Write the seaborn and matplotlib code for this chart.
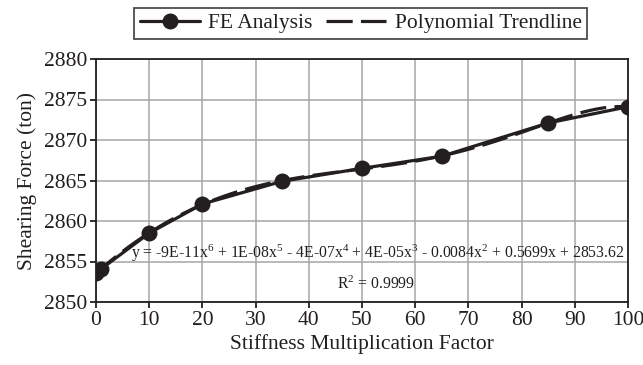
import numpy as np
import pandas as pd
import matplotlib
matplotlib.use("Agg")
import matplotlib.pyplot as plt
import seaborn as sns

# Data
stiffness = [0, 1, 10, 20, 35, 50, 65, 85, 100]
shear_force = [2853.6, 2854.1, 2858.5, 2862.1, 2864.9, 2866.5, 2868.0, 2872.1, 2874.1]
x_ticks = [0, 10, 20, 30, 40, 50, 60, 70, 80, 90, 100]
y_ticks = [2850, 2855, 2860, 2865, 2870, 2875, 2880]
equation = ("y = -9E-11x$^{6}$ + 1E-08x$^{5}$ - 4E-07x$^{4}$ + 4E-05x$^{3}$ "
            "- 0.0084x$^{2}$ + 0.5699x + 2853.62")
r2_text = "R$^{2}$ = 0.9999"

sns.set_theme(style="white")
plt.rcParams["font.family"] = ["Liberation Serif", "DejaVu Serif"]
plt.rcParams["mathtext.fontset"] = "custom"
plt.rcParams["mathtext.rm"] = "Liberation Serif"
plt.rcParams["mathtext.default"] = "regular"

INK = "#231f20"
W, H = 643, 365

df = pd.DataFrame({"x": stiffness, "y": shear_force})
coef = np.polyfit(stiffness, shear_force, 6)
xs = np.linspace(min(stiffness), max(stiffness), 200)
trend = pd.DataFrame({"x": xs, "y": np.polyval(coef, xs)})

fig = plt.figure(figsize=(W / 100, H / 100), dpi=100)
left, right, top, bottom = 96, 628, 59, 302
ax = fig.add_axes([left / W, 1 - bottom / H, (right - left) / W, (bottom - top) / H])

sns.lineplot(data=trend, x="x", y="y", ax=ax, color=INK, lw=2.3,
             linestyle=(0, (8.2, 2.6)), label="Polynomial Trendline", zorder=3)
sns.lineplot(data=df, x="x", y="y", ax=ax, color=INK, lw=2.3,
             marker="o", markersize=11.5, markeredgewidth=0,
             label="FE Analysis", zorder=4)

ax.set_xlim(0, 100)
ax.set_ylim(2850, 2880)
ax.set_xticks(x_ticks)
ax.set_yticks(y_ticks)
ax.grid(True, color="#a6a6a6", lw=1.1)
for s in ax.spines.values():
    s.set_color(INK)
    s.set_linewidth(1.3)
    s.set_visible(True)
ax.tick_params(axis="both", direction="out", length=4.5, width=1.3, colors=INK,
               labelsize=15.5, labelcolor=INK, pad=2, bottom=True, left=True)
ax.set_xlabel("Stiffness Multiplication Factor", fontsize=15.5, color=INK, labelpad=3)
ax.set_ylabel("Shearing Force (ton)", fontsize=15.5, color=INK, labelpad=5)

ax.text(6.6, 2856.0, equation, fontsize=11.3, color=INK, ha="left", va="center",
        clip_on=False, zorder=5)
ax.text(52.7, 2852.2, r2_text, fontsize=11.3, color=INK, ha="center", va="center",
        zorder=5)

handles, labels = ax.get_legend_handles_labels()
order = [labels.index("FE Analysis"), labels.index("Polynomial Trendline")]
leg = ax.legend([handles[i] for i in order], [labels[i] for i in order],
                loc="upper right", bbox_to_anchor=(587 / W, 1 - 8 / H),
                bbox_transform=fig.transFigure,
                ncol=2, frameon=True, fancybox=False, edgecolor=INK, fontsize=15.5,
                handlelength=2.8, columnspacing=0.6, handletextpad=0.4,
                borderpad=0.25, borderaxespad=0, labelcolor=INK)
leg.get_frame().set_linewidth(1.3)

fig.savefig("out.png", dpi=100)
